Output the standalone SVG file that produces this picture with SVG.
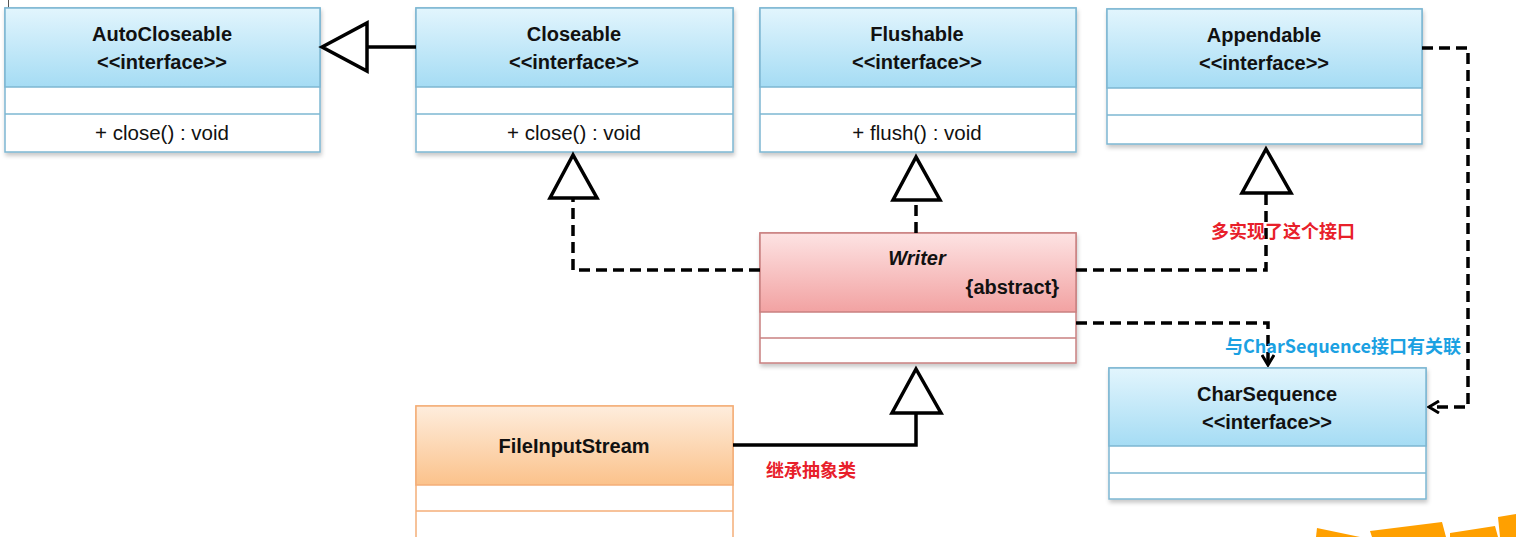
<svg xmlns="http://www.w3.org/2000/svg" width="1516" height="537" viewBox="0 0 1516 537">
<defs>
<linearGradient id="gBlue" x1="0" y1="0" x2="0" y2="1">
<stop offset="0" stop-color="#E2F5FD"/><stop offset="1" stop-color="#A5DCF4"/>
</linearGradient>
<linearGradient id="gRed" x1="0" y1="0" x2="0" y2="1">
<stop offset="0" stop-color="#FDE3E3"/><stop offset="1" stop-color="#F2A2A2"/>
</linearGradient>
<linearGradient id="gOrange" x1="0" y1="0" x2="0" y2="1">
<stop offset="0" stop-color="#FEEDDD"/><stop offset="1" stop-color="#FBC28B"/>
</linearGradient>
<filter id="sh" x="-5%" y="-5%" width="110%" height="115%">
<feDropShadow dx="1" dy="3" stdDeviation="2" flood-color="#000" flood-opacity="0.22"/>
</filter>
<marker id="openArrow" viewBox="0 0 14 14" refX="12" refY="7" markerWidth="14" markerHeight="14" markerUnits="userSpaceOnUse" orient="auto">
<path d="M2,1 L12,7 L2,13" fill="none" stroke="#000" stroke-width="3"/>
</marker>
</defs>
<style>
.box{stroke-width:1.5}
.blue{stroke:#7DB7D2}
.red{stroke:#C98080}
.orange{stroke:#F4AE78}
.t{font-family:"Liberation Sans","Noto Sans",sans-serif;font-size:20px;fill:#111;text-anchor:middle}
.m{font-size:20.5px}
.b{font-weight:bold}
.solid{fill:none;stroke:#000;stroke-width:3.5}
.dash{fill:none;stroke:#000;stroke-width:3.5;stroke-dasharray:11 6}
.tri{fill:#fff;stroke:#000;stroke-width:3.5;stroke-linejoin:miter}
.cn{font-family:"Noto Sans CJK SC",sans-serif;font-size:18px;font-weight:bold}
</style>
<rect width="1516" height="537" fill="#fff"/>
<line x1="8.5" y1="0" x2="8.5" y2="8" stroke="#555" stroke-width="1"/>

<g id="AutoCloseable">
<g filter="url(#sh)"><rect x="5" y="8" width="315" height="144" fill="#fff" class="box blue"/></g>
<rect x="5" y="8" width="315" height="79" fill="url(#gBlue)" class="box blue"/>
<line x1="5" y1="114" x2="320" y2="114" class="box blue"/>
<text x="162" y="41" class="t b">AutoCloseable</text>
<text x="162" y="69" class="t b">&lt;&lt;interface&gt;&gt;</text>
<text x="162" y="140" class="t m">+ close() : void</text>
</g>

<g id="Closeable">
<g filter="url(#sh)"><rect x="416" y="8" width="317" height="144" fill="#fff" class="box blue"/></g>
<rect x="416" y="8" width="317" height="79" fill="url(#gBlue)" class="box blue"/>
<line x1="416" y1="114" x2="733" y2="114" class="box blue"/>
<text x="574" y="41" class="t b">Closeable</text>
<text x="574" y="69" class="t b">&lt;&lt;interface&gt;&gt;</text>
<text x="574" y="140" class="t m">+ close() : void</text>
</g>

<g id="Flushable">
<g filter="url(#sh)"><rect x="760" y="8" width="316" height="144" fill="#fff" class="box blue"/></g>
<rect x="760" y="8" width="316" height="79" fill="url(#gBlue)" class="box blue"/>
<line x1="760" y1="114" x2="1076" y2="114" class="box blue"/>
<text x="917" y="41" class="t b">Flushable</text>
<text x="917" y="69" class="t b">&lt;&lt;interface&gt;&gt;</text>
<text x="917" y="140" class="t m">+ flush() : void</text>
</g>

<g id="Appendable">
<g filter="url(#sh)"><rect x="1107" y="9" width="315" height="135" fill="#fff" class="box blue"/></g>
<rect x="1107" y="9" width="315" height="79" fill="url(#gBlue)" class="box blue"/>
<line x1="1107" y1="115" x2="1422" y2="115" class="box blue"/>
<text x="1264" y="42" class="t b">Appendable</text>
<text x="1264" y="70" class="t b">&lt;&lt;interface&gt;&gt;</text>
</g>

<g id="Writer">
<g filter="url(#sh)"><rect x="760" y="233" width="316" height="130" fill="#fff" class="box red"/></g>
<rect x="760" y="233" width="316" height="79" fill="url(#gRed)" class="box red"/>
<line x1="760" y1="338" x2="1076" y2="338" class="box red"/>
<text x="917" y="265" class="t b" font-style="italic">Writer</text>
<text x="1059" y="294" class="t b" style="text-anchor:end">{abstract}</text>
</g>

<g id="CharSequence">
<g filter="url(#sh)"><rect x="1109" y="368" width="317" height="131" fill="#fff" class="box blue"/></g>
<rect x="1109" y="368" width="317" height="78" fill="url(#gBlue)" class="box blue"/>
<line x1="1109" y1="473" x2="1426" y2="473" class="box blue"/>
<text x="1267" y="401" class="t b">CharSequence</text>
<text x="1267" y="429" class="t b">&lt;&lt;interface&gt;&gt;</text>
</g>

<g id="FileInputStream">
<rect x="416" y="406" width="317" height="140" fill="#fff" class="box orange"/>
<rect x="416" y="406" width="317" height="79" fill="url(#gOrange)" class="box orange"/>
<line x1="416" y1="511" x2="733" y2="511" class="box orange"/>
<text x="574" y="453" class="t b">FileInputStream</text>
</g>

<g id="connectors">
<path class="solid" d="M416,47 H367"/>
<path class="tri" d="M322,47 L367,23 L367,71 Z"/>

<path class="dash" d="M760,270 H573 V198"/>
<path class="tri" d="M573,155 L550,198 L597,198 Z"/>

<path class="dash" d="M916,233 V200"/>
<path class="tri" d="M916,157 L893,200 L940,200 Z"/>

<path class="dash" d="M1076,270 H1266 V193"/>
<path class="tri" d="M1266,149 L1242,193 L1291,193 Z"/>

<path class="dash" d="M1076,323 H1268 V365" marker-end="url(#openArrow)"/>

<path class="dash" d="M1422,48 H1468 V407 H1429" marker-end="url(#openArrow)"/>

<path class="solid" d="M733,445 H916 V413"/>
<path class="tri" d="M916,369 L892,413 L941,413 Z"/>
</g>

<g id="labels">
<text x="1283" y="238" class="cn" fill="#E8202A" text-anchor="middle">多实现了这个接口</text>
<text x="1461" y="353" class="cn" fill="#1BA1E2" text-anchor="end">与CharSequence接口有关联</text>
<text x="811" y="477" class="cn" fill="#E8202A" text-anchor="middle">继承抽象类</text>
</g>

<g id="corner-decoration">
<polygon points="1317,528 1360,537 1316,537" fill="#FFA000"/>
<polygon points="1370,531 1442,522 1446,537 1372,537" fill="#FFA000"/>
<polygon points="1450,533 1495,526 1498,537 1450,537" fill="#FFA000"/>
<polygon points="1498,517 1516,514 1516,537 1500,537" fill="#FFA000"/>
</g>
</svg>
